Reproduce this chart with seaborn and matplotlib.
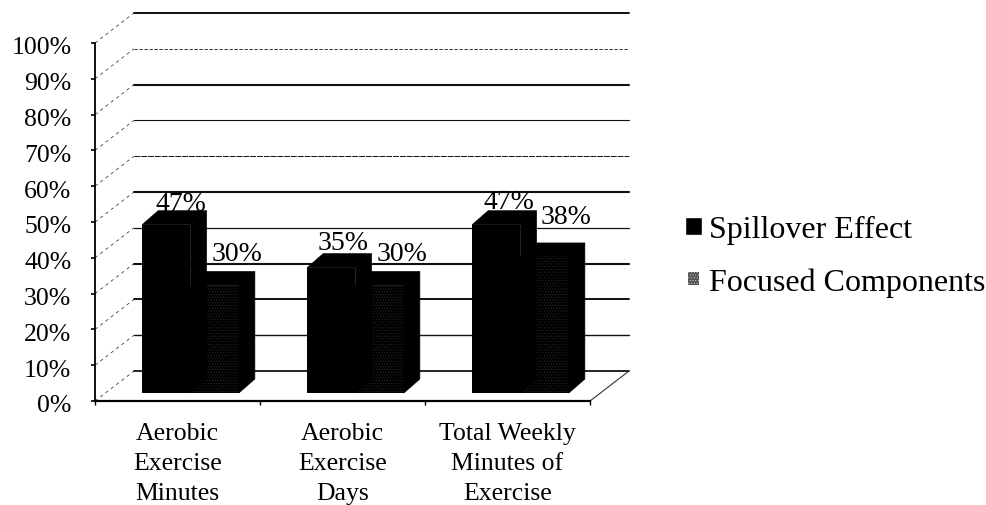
import pandas as pd
import seaborn as sns
import matplotlib.pyplot as plt
from matplotlib.patches import Polygon
from matplotlib.transforms import Affine2D

categories = ['Aerobic\nExercise\nMinutes', 'Aerobic\nExercise\nDays', 'Total Weekly\nMinutes of\nExercise']
spillover = [47, 35, 47]
focused = [30, 30, 38]
series_names = ['Spillover Effect', 'Focused Components']
y_ticks = [0, 10, 20, 30, 40, 50, 60, 70, 80, 90, 100]
# gridline look, 0% up to 100%, the scan makes some of them thin or broken
grid_lw = [1.3, 1.0, 1.4, 1.5, 0.9, 1.5, 0.7, 0.8, 1.5, 0.6, 1.4]
grid_ls = ['-', '-', '-', '-', '-', '-', (0, (6, 1)), '-', '-', (0, (4, 2)), '-']
# data labels were placed by hand in the original, offsets in pixels from bar front top
label_dx = [[15, 12, 13], [22, 22, 21]]
label_dy = [[15, 19, 17], [26, 26, 34]]

sns.set_style('white')
plt.rcParams['font.family'] = ['Liberation Serif', 'DejaVu Serif']
plt.rcParams['hatch.linewidth'] = 0.4

df = pd.DataFrame({'cat': categories * 2,
                   'val': spillover + focused,
                   'series': [series_names[0]] * 3 + [series_names[1]] * 3})

fig = plt.figure(figsize=(9.86, 5.06), dpi=100)
ax = fig.add_axes([95 / 986, (506 - 402) / 506, 495 / 986, 358 / 506])

sns.barplot(data=df, x='cat', y='val', hue='series', palette=['black', 'black'],
            width=0.586, gap=0, saturation=1, dodge=True, ax=ax)
ax.set_xlim(-0.5, 2.5)
ax.set_ylim(0, 100)
ax.set_xlabel('')
ax.set_ylabel('')

# pixels to data units, front plane of the chart
px_x = 3 / 495
px_y = 100 / 358

# bars stand a bit behind the front axis
bar_tf = ax.transData + Affine2D().translate(13, 8)
# back wall
wall_tf = ax.transData + Affine2D().translate(39, 30)

for v, lw, ls in zip(y_ticks, grid_lw, grid_ls):
    ax.plot([-0.5, 2.5], [v, v], color='#111111', lw=lw, ls=ls, transform=wall_tf,
            clip_on=False, zorder=1)
    ax.plot([-0.5, -0.5 + 39 * px_x], [v, v + 30 * px_y], color='#444444', lw=0.6,
            ls=(0, (4, 4)), clip_on=False, zorder=1)
# right edge of the floor
ax.plot([2.5, 2.5 + 39 * px_x], [0, 30 * px_y], color='#333333', lw=0.8, clip_on=False, zorder=1)

for i, cont in enumerate(ax.containers):
    for j, (bar, val) in enumerate(zip(cont.patches, cont.datavalues)):
        x0, w, h = bar.get_x(), bar.get_width(), bar.get_height()
        dx, dy = 16 * px_x, 14 * px_y
        z = 4 - i
        bar.set_transform(bar_tf)
        bar.set_clip_on(False)
        bar.set_zorder(z)
        bar.set_linewidth(0)
        top = Polygon([(x0, h), (x0 + dx, h + dy), (x0 + w + dx, h + dy), (x0 + w, h)],
                      fc='black', ec='black', lw=0.5, transform=bar_tf, clip_on=False, zorder=z)
        side = Polygon([(x0 + w, 0), (x0 + w + dx, dy), (x0 + w + dx, h + dy), (x0 + w, h)],
                       fc='black', ec='black', lw=0.5, transform=bar_tf, clip_on=False, zorder=z)
        ax.add_patch(top)
        ax.add_patch(side)
        ax.annotate(f'{val:.0f}%', (x0 + w / 2, h), xycoords=bar_tf,
                    xytext=(label_dx[i][j] * 0.72, label_dy[i][j] * 0.72), textcoords='offset points',
                    ha='center', va='baseline', fontsize=20, color='black', zorder=6)
    if i == 1:
        for bar in cont.patches:
            bar.set_hatch('......')
            bar.set_edgecolor('#2a2a2a')

ax.set_yticks(y_ticks)
ax.set_yticklabels([f'{v}%' for v in y_ticks], fontsize=18.5, color='black')
ax.tick_params(axis='y', left=True, length=3, width=1.2, color='black', pad=14)
for lab in ax.get_yticklabels():
    lab.set_transform(lab.get_transform() + Affine2D().translate(0, -2))
ax.set_xticks([-0.5, 0.5, 1.5, 2.5], minor=True)
ax.tick_params(axis='x', which='minor', bottom=True, length=3, width=1, color='black')
ax.tick_params(axis='x', which='major', bottom=False, pad=11.5, labelsize=18.5, labelcolor='black')
for lab in ax.get_xticklabels():
    lab.set_linespacing(1.48)

sns.despine(ax=ax)
ax.spines['left'].set_linewidth(1.3)
ax.spines['bottom'].set_linewidth(1.6)
ax.spines['left'].set_color('black')
ax.spines['bottom'].set_color('black')
ax.spines['left'].set_zorder(7)
ax.spines['bottom'].set_zorder(7)

sns.move_legend(ax, 'center left', bbox_to_anchor=(685 / 986, (506 - 257) / 506),
                bbox_transform=fig.transFigure, frameon=False, title=None, fontsize=23,
                handlelength=0.53, handleheight=0.53, handletextpad=0.22, labelspacing=0.72,
                borderpad=0, borderaxespad=0, labelcolor='black')
leg_handles = ax.get_legend().legend_handles
small = leg_handles[1]
small.set_hatch('......')
small.set_facecolor('#555555')
small.set_edgecolor('#cccccc')
small.set_linewidth(0)
small.set_x(small.get_x() + 0.15 * small.get_width())
small.set_y(small.get_y() + 0.15 * small.get_height())
small.set_width(small.get_width() * 0.7)
small.set_height(small.get_height() * 0.7)

fig.savefig('out.png', dpi=100, facecolor='white')
